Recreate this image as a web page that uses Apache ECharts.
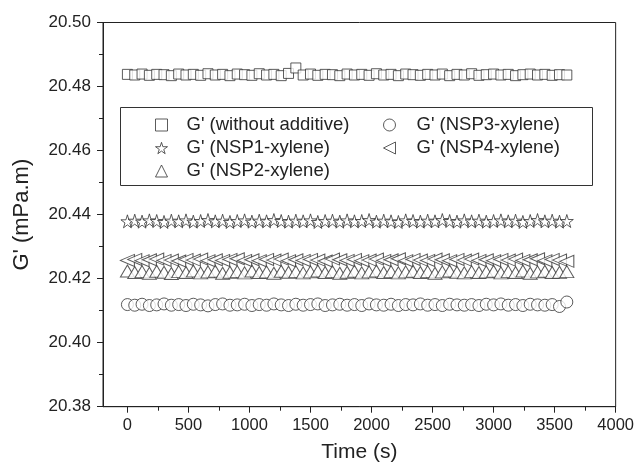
<!DOCTYPE html>
<html>
<head>
<meta charset="utf-8">
<script src="https://cdn.jsdelivr.net/npm/echarts@6/dist/echarts.min.js"></script>
<style>
  html, body { margin: 0; padding: 0; background: #fff; }
  #chart { width: 637px; height: 470px; }
</style>
</head>
<body>
<div id="chart"></div>
<script>
// Sampling times (s)
var times = [0,60,120,180,240,300,360,420,480,540,600,660,720,780,840,900,960,1020,1080,1140,
  1200,1260,1320,1380,1440,1500,1560,1620,1680,1740,1800,1860,1920,1980,2040,2100,2160,2220,2280,2340,
  2400,2460,2520,2580,2640,2700,2760,2820,2880,2940,3000,3060,3120,3180,3240,3300,3360,3420,3480,3540,
  3600];

// G' readings (mPa.m) for each sample
var gWithout = [20.4838,20.4836,20.4839,20.4835,20.4838,20.4837,20.4834,20.4839,20.4836,20.4838,
  20.4835,20.4840,20.4836,20.4838,20.4834,20.4839,20.4837,20.4835,20.4840,20.4836,
  20.4838,20.4834,20.4841,20.4858,20.4836,20.4839,20.4835,20.4838,20.4837,20.4834,
  20.4839,20.4836,20.4838,20.4835,20.4840,20.4836,20.4838,20.4834,20.4839,20.4837,
  20.4835,20.4838,20.4836,20.4839,20.4834,20.4838,20.4836,20.4840,20.4835,20.4837,
  20.4839,20.4836,20.4838,20.4834,20.4837,20.4839,20.4836,20.4838,20.4835,20.4837,
  20.4836];
var gNSP1 = [20.4379,20.4381,20.4378,20.4382,20.4380,20.4377,20.4381,20.4379,20.4382,20.4378,
  20.4380,20.4383,20.4379,20.4381,20.4377,20.4380,20.4382,20.4378,20.4381,20.4379,
  20.4383,20.4380,20.4378,20.4381,20.4379,20.4382,20.4377,20.4380,20.4381,20.4378,
  20.4382,20.4379,20.4380,20.4383,20.4378,20.4381,20.4379,20.4377,20.4382,20.4380,
  20.4378,20.4381,20.4379,20.4383,20.4380,20.4378,20.4382,20.4379,20.4381,20.4378,
  20.4380,20.4382,20.4379,20.4381,20.4377,20.4380,20.4383,20.4379,20.4381,20.4378,
  20.4380];
var gNSP2 = [20.4224,20.4219,20.4222,20.4217,20.4223,20.4220,20.4216,20.4222,20.4219,20.4224,
  20.4218,20.4221,20.4223,20.4217,20.4220,20.4222,20.4218,20.4224,20.4219,20.4221,
  20.4217,20.4223,20.4220,20.4222,20.4218,20.4221,20.4224,20.4219,20.4222,20.4217,
  20.4220,20.4223,20.4218,20.4221,20.4224,20.4219,20.4222,20.4218,20.4221,20.4223,
  20.4219,20.4222,20.4217,20.4221,20.4224,20.4220,20.4218,20.4222,20.4219,20.4221,
  20.4223,20.4218,20.4222,20.4219,20.4224,20.4217,20.4221,20.4223,20.4219,20.4220,
  20.4222];
var gNSP3 = [20.4119,20.4117,20.4120,20.4116,20.4118,20.4121,20.4117,20.4119,20.4116,20.4120,
  20.4118,20.4115,20.4119,20.4121,20.4117,20.4118,20.4120,20.4116,20.4119,20.4117,
  20.4121,20.4118,20.4116,20.4120,20.4117,20.4119,20.4121,20.4116,20.4118,20.4120,
  20.4117,20.4119,20.4116,20.4121,20.4118,20.4117,20.4120,20.4116,20.4119,20.4118,
  20.4121,20.4117,20.4119,20.4116,20.4120,20.4118,20.4117,20.4119,20.4116,20.4120,
  20.4118,20.4121,20.4117,20.4119,20.4116,20.4120,20.4118,20.4117,20.4119,20.4113,
  20.4127];
var gNSP4 = [20.4257,20.4260,20.4256,20.4259,20.4261,20.4257,20.4258,20.4255,20.4260,20.4258,
  20.4261,20.4256,20.4259,20.4257,20.4260,20.4262,20.4257,20.4259,20.4256,20.4260,
  20.4258,20.4261,20.4256,20.4259,20.4257,20.4260,20.4258,20.4255,20.4261,20.4259,
  20.4257,20.4260,20.4256,20.4258,20.4261,20.4257,20.4259,20.4262,20.4256,20.4260,
  20.4258,20.4257,20.4261,20.4259,20.4256,20.4260,20.4258,20.4261,20.4257,20.4259,
  20.4256,20.4260,20.4258,20.4261,20.4257,20.4259,20.4262,20.4256,20.4260,20.4258,
  20.4254];

// Axis ticks
var xMajorTicks = [0,500,1000,1500,2000,2500,3000,3500,4000];
var xMinorTicks = [250,750,1250,1750,2250,2750,3250,3750];

var seriesNames = ["G' (without additive)", "G' (NSP1-xylene)", "G' (NSP2-xylene)", "G' (NSP3-xylene)", "G' (NSP4-xylene)"];

var INK = '#222';
var MARK = '#333';
var FONT = '"Liberation Sans", Arial, sans-serif';
var STAR = 'path://M50,0L61,35L98,35L68,57L79,91L50,70L21,91L32,57L2,35L39,35Z';
var LEFT_TRI = 'path://M0,50L100,0L100,100Z';

function pairs(ys) {
  return times.map(function (t, i) { return [t, ys[i]]; });
}

function scatter(name, ys, symbol, size) {
  return {
    type: 'scatter',
    name: name,
    data: pairs(ys),
    symbol: symbol,
    symbolSize: size,
    itemStyle: { color: '#fff', borderColor: MARK, borderWidth: 1 },
    emphasis: { disabled: true },
    silent: true
  };
}

var chart = echarts.init(document.getElementById('chart'), null, { renderer: 'canvas' });

var legendText = { fontFamily: FONT, fontSize: 18.5, color: INK, lineHeight: 20 };
var legendItem = { color: '#fff', borderColor: MARK, borderWidth: 1 };

chart.setOption({
  animation: false,
  backgroundColor: '#fff',
  grid: {
    left: 103, right: 18.5, top: 22.5, bottom: 63.3,
    show: true, borderColor: INK, borderWidth: 1, backgroundColor: 'transparent'
  },
  xAxis: [{
    type: 'value', min: -200, max: 4000,
    name: 'Time (s)', nameLocation: 'middle', nameGap: 35,
    nameTextStyle: { fontFamily: FONT, fontSize: 21, color: INK },
    axisLine: { show: true, onZero: false, lineStyle: { color: INK, width: 1 } },
    axisTick: { show: true, inside: false, length: 6, customValues: xMajorTicks, lineStyle: { color: INK } },
    axisLabel: {
      customValues: xMajorTicks, margin: 10, fontFamily: FONT, fontSize: 16.5, color: INK,
      formatter: function (v) { return String(v); }
    },
    splitLine: { show: false }
  }, {
    type: 'value', min: -200, max: 4000, position: 'bottom', gridIndex: 0,
    axisLine: { show: false, onZero: false },
    axisTick: { show: true, inside: false, length: 4, customValues: xMinorTicks, lineStyle: { color: INK } },
    axisLabel: { show: false },
    splitLine: { show: false }
  }],
  yAxis: {
    type: 'value', min: 20.38, max: 20.50, interval: 0.02,
    name: "G' (mPa.m)", nameLocation: 'middle', nameGap: 70,
    nameTextStyle: { fontFamily: FONT, fontSize: 22, color: INK },
    axisLine: { show: true, onZero: false, lineStyle: { color: INK, width: 1 } },
    axisTick: { show: true, inside: false, length: 6, lineStyle: { color: INK } },
    minorTick: { show: true, splitNumber: 2, length: 4, lineStyle: { color: INK } },
    axisLabel: {
      margin: 12, fontFamily: FONT, fontSize: 17, color: INK,
      formatter: function (v) { return v.toFixed(2); }
    },
    splitLine: { show: false }
  },
  legend: [{
    data: [seriesNames[0], seriesNames[1], seriesNames[2]],
    orient: 'vertical', left: 150, top: 110,
    itemWidth: 12, itemHeight: 12, itemGap: 3,
    selectedMode: false,
    itemStyle: legendItem,
    textStyle: Object.assign({ padding: [0, 0, 0, 14] }, legendText)
  }, {
    data: [seriesNames[3], seriesNames[4]],
    orient: 'vertical', left: 378, top: 110,
    itemWidth: 12, itemHeight: 12, itemGap: 3,
    selectedMode: false,
    itemStyle: legendItem,
    textStyle: Object.assign({ padding: [0, 0, 0, 16] }, legendText)
  }],
  graphic: [{
    type: 'rect', left: 120, top: 107, z: 0,
    shape: { width: 472, height: 78 },
    style: { fill: 'transparent', stroke: '#333', lineWidth: 1 }
  }],
  series: [
    scatter(seriesNames[0], gWithout, 'rect', 10),
    scatter(seriesNames[1], gNSP1, STAR, 13),
    scatter(seriesNames[2], gNSP2, 'triangle', [14, 12]),
    scatter(seriesNames[3], gNSP3, 'circle', 12),
    scatter(seriesNames[4], gNSP4, LEFT_TRI, [14, 12])
  ]
});
</script>
</body>
</html>
